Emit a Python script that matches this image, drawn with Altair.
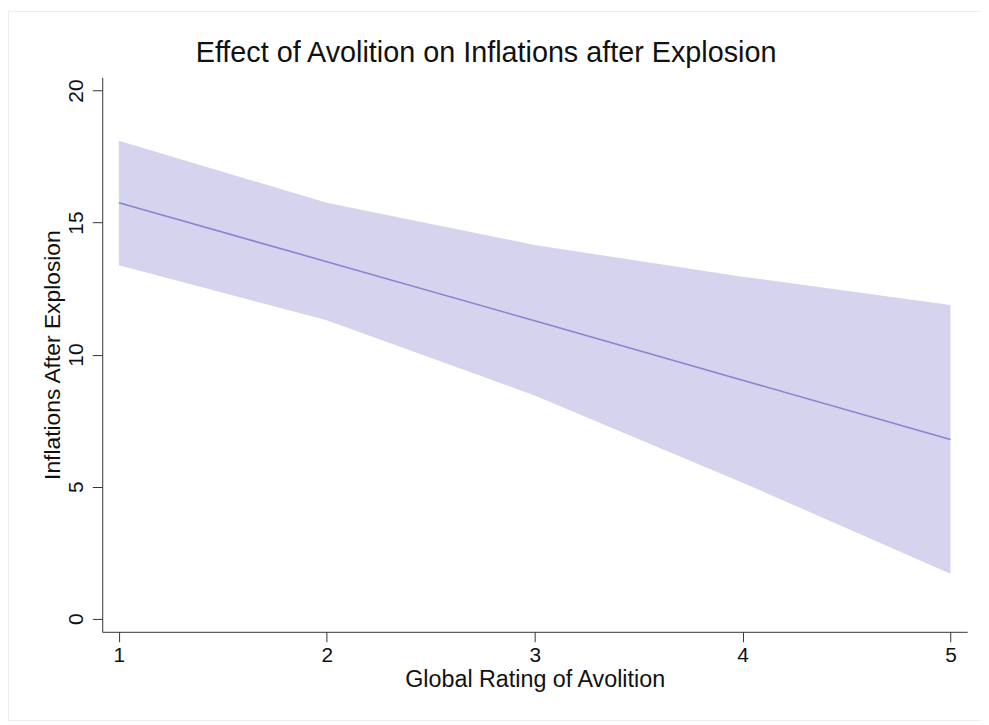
import altair as alt
import pandas as pd

rating = [1, 2, 3, 4, 5]
fit = [15.75, 13.52, 11.28, 9.03, 6.78]
upper = [18.1, 15.75, 14.15, 12.95, 11.88]
lower = [13.38, 11.3, 8.45, 5.15, 1.7]
title_text = ["Effect of Avolition on Inflations after Explosion"]

df = pd.DataFrame({"rating": rating, "fit": fit, "upper": upper, "lower": lower})

FONT = "Liberation Sans"
W, H = 872, 559

xs = alt.Scale(domain=[0.92, 5.08], nice=False, zero=False)
ys = alt.Scale(domain=[-0.5, 20.5], nice=False, zero=False)

band = alt.Chart(df).mark_area(color="#d5d3ee", opacity=1).encode(
    x=alt.X("rating:Q", scale=xs,
            axis=alt.Axis(title="Global Rating of Avolition", values=[1, 2, 3, 4, 5],
                          format="d", grid=False, domainColor="#333333", tickColor="#333333",
                          tickSize=10, labelFontSize=21, labelPadding=3, labelColor="#111111",
                          titleFontSize=23.5, titleFontWeight="normal", titlePadding=2,
                          titleColor="#111111", labelFont=FONT, titleFont=FONT)),
    y=alt.Y("lower:Q", scale=ys,
            axis=alt.Axis(title="Inflations After Explosion", values=[0, 5, 10, 15, 20],
                          grid=False, domainColor="#333333", tickColor="#333333",
                          tickSize=10, labelFontSize=21, labelAngle=-90, labelAlign="center",
                          labelBaseline="alphabetic", labelPadding=10, labelColor="#111111",
                          titleFontSize=23, titleFontWeight="normal",
                          titleX=-43, titleY=H / 2, titleAngle=-90, titleAlign="center",
                          titleBaseline="alphabetic",
                          titleColor="#111111", labelFont=FONT, titleFont=FONT)),
    y2="upper:Q",
)

line = alt.Chart(df).mark_line(color="#8784d4", strokeWidth=1.6).encode(
    x=alt.X("rating:Q", scale=xs),
    y=alt.Y("fit:Q", scale=ys),
)

title = alt.Chart(pd.DataFrame({"t": title_text})).mark_text(
    font=FONT, fontSize=29, color="#111111", align="center", baseline="alphabetic"
).encode(text="t:N", x=alt.value(387), y=alt.value(-15))

border = alt.Chart(pd.DataFrame({"a": [0]})).mark_rect(
    fill=None, stroke="#eeeeee", strokeWidth=1, clip=False
).encode(
    x=alt.value(-94.5), x2=alt.value(W + 40),
    y=alt.value(-66.5), y2=alt.value(H + 89.5),
)

chart = alt.layer(border, band, line, title).properties(
    width=W, height=H,
    autosize=alt.AutoSizeParams(type="none"),
    padding={"left": 95, "top": 67, "right": 14, "bottom": 90},
).configure(background="white").configure_view(strokeOpacity=0, strokeWidth=0)

chart.save("out.html", embed_options={"renderer": "svg", "actions": False})
